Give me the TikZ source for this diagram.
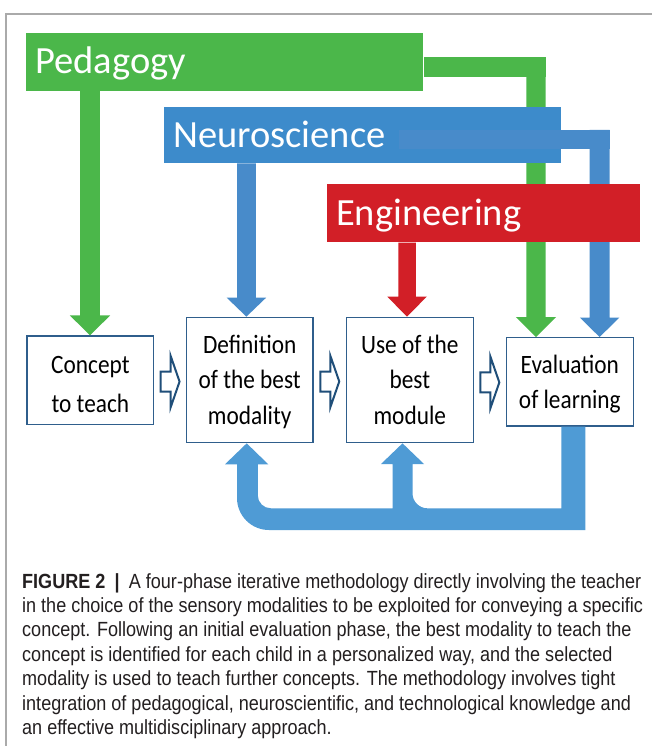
\documentclass[tikz,border=0pt]{standalone}
\usepackage{fontspec}
\setmainfont{Carlito}
\newfontfamily\hdrfont{Carlito}
\newfontfamily\boxfont[FakeStretch=0.88]{Carlito}
\newfontfamily\capfont[FakeStretch=0.88]{Liberation Sans}
\usetikzlibrary{calc}
\definecolor{pedgreen}{RGB}{75,183,74}
\definecolor{neublue}{RGB}{61,139,203}
\definecolor{neuarm}{RGB}{72,139,202}
\definecolor{engred}{RGB}{210,31,39}
\definecolor{fbblue}{RGB}{79,155,213}
\definecolor{boxblue}{RGB}{47,94,140}
\definecolor{harrowblue}{RGB}{31,78,121}
\definecolor{captext}{RGB}{35,31,32}
\definecolor{framegray}{RGB}{170,170,170}
\newcommand{\vblock}[6]{%
  \fill[#1] let \p1=(#2), \p2=(#3) in
    ({\x2-(#4)/2},\y1) -- ({\x2+(#4)/2},\y1) -- ({\x2+(#4)/2},{\y2+(#6)})
    -- ({\x2+(#5)/2},{\y2+(#6)}) -- (\x2,\y2) -- ({\x2-(#5)/2},{\y2+(#6)})
    -- ({\x2-(#4)/2},{\y2+(#6)}) -- cycle;}
\newcommand{\harrow}[2]{%
  \draw[hollowarrow] let \p1=($(#1.east)!0.5!(#2.west)$) in
    ({\x1-9.5pt},{\y1-1.5pt+10pt}) -- ({\x1+0.5pt},{\y1-1.5pt+10pt})
    -- ({\x1+0.5pt},{\y1-1.5pt+26pt}) -- ({\x1+9.5pt},{\y1-1.5pt})
    -- ({\x1+0.5pt},{\y1-1.5pt-26pt}) -- ({\x1+0.5pt},{\y1-1.5pt-10pt})
    -- ({\x1-9.5pt},{\y1-1.5pt-10pt}) -- cycle;}
\begin{document}
\begin{tikzpicture}[x=1pt,y=-1pt,
  hdr/.style={rectangle, inner xsep=9pt, inner ysep=0pt, minimum height=58pt,
    text height=24.3pt, text depth=0pt, align=left, text=white,
    font=\hdrfont\fontsize{38.5}{41}\selectfont},
  stagebox/.style={draw=boxblue, line width=1.3pt, fill=white, minimum width=126.8pt,
    inner sep=0pt, align=center, text=black, text depth=0pt},
  hollowarrow/.style={draw=harrowblue, fill=white, line width=2pt, line join=miter},
  capline/.style={anchor=base west, inner sep=0pt, text=captext,
    font=\capfont\fontsize{20.5}{23.3}\selectfont}]
\useasboundingbox (0,0) rectangle (652,746);
\fill[white] (0,0) rectangle (652,746);
\draw[framegray, line width=1.5pt] (6,746) -- (6,14) -- (652,14);

% stage boxes
\node[stagebox, minimum height=88.3pt, text height=65pt,
  font=\boxfont\fontsize{26.5}{39}\selectfont] (b1) at (90.4,380.2) {Concept\\to teach};
\node[stagebox, minimum height=125.4pt, text height=88.6pt,
  font=\boxfont\fontsize{26.5}{35.5}\selectfont] (b2) at (249.7,380) {Definition\\of the best\\modality};
\node[stagebox, minimum height=125.4pt, text height=88.6pt,
  font=\boxfont\fontsize{26.5}{35.5}\selectfont] (b3) at (409.8,380) {Use of the\\best\\module};
\node[stagebox, minimum height=88.3pt, text height=52.9pt,
  font=\boxfont\fontsize{26.5}{35}\selectfont] (b4) at (569.85,381.85) {Evaluation\\of learning};

% Pedagogy
\node[hdr, fill=pedgreen, minimum width=397.1pt, text width=379.1pt] (ped) at (224.75,61.7) {Pedagogy};
\coordinate (garm) at (545.5,77.3);
\coordinate (gtop) at (536,57.3);
\fill[pedgreen] ([yshift=4.4pt]ped.east) rectangle (garm);
\vblock{pedgreen}{ped.south}{[xshift=-0.4pt]b1.north}{19.6pt}{40.3pt}{20pt}
\vblock{pedgreen}{gtop}{[xshift=-33.85pt]b4.north}{19.1pt}{40.3pt}{20pt}

% Neuroscience
\node[hdr, fill=neublue, minimum height=56.6pt, minimum width=397.1pt, text width=379.1pt] (neu) at (362.75,135) {Neuroscience};
\coordinate (narm0) at (399,130);
\coordinate (narm1) at (609.6,149.3);
\coordinate (ntop) at (599.6,130);
\fill[neuarm] (narm0) rectangle (narm1);
\vblock{neuarm}{neu.south}{[xshift=-3.3pt]b2.north}{18.7pt}{39.5pt}{19pt}
\vblock{neuarm}{ntop}{[xshift=29.75pt]b4.north}{20pt}{39.5pt}{19.5pt}

% Engineering
\node[hdr, fill=engred, minimum width=313.1pt, text width=295.1pt] (eng) at (483.75,213.3) {Engineering};
\vblock{engred}{eng.south}{[xshift=-2.8pt]b3.north}{17.5pt}{39.5pt}{20pt}

% feedback loop
\fill[fbblue] ([xshift=-8.55pt]b4.south) -- (561.3,508.3) -- (427.5,508.3)
  .. controls (419.2,508.3) and (412.5,501.6) .. (412.5,493.3) -- (412.5,464)
  -- (424,464) -- ([xshift=-7.3pt]b3.south) -- (381,464) -- (392.5,464)
  -- (392.5,508.3) -- (270.8,508.3)
  .. controls (263.6,508.3) and (257.8,502.5) .. (257.8,495.3) -- (257.8,464.3)
  -- (268.3,464.3) -- ([xshift=-3pt]b2.south) -- (225,464.3) -- (237,464.3)
  -- (237,498) .. controls (237,515.7) and (251.3,530) .. (269,530)
  -- (585.4,530) -- ([xshift=15.55pt]b4.south) -- cycle;

% hollow arrows between stages
\harrow{b1}{b2}
\harrow{b2}{b3}
\harrow{b3}{b4}

% caption
\node[capline] (c1) at (22,588) {\textbf{FIGURE 2}\hspace{0.45em}\textbf{|}\hspace{0.45em}A four-phase iterative methodology directly involving the teacher};
\node[capline] (c2) at (22,612.4) {in the choice of the sensory modalities to be exploited for conveying a specific};
\node[capline] (c3) at (22,636.8) {concept. Following an initial evaluation phase, the best modality to teach the};
\node[capline] (c4) at (22,661.2) {concept is identified for each child in a personalized way, and the selected};
\node[capline] (c5) at (22,685.6) {modality is used to teach further concepts. The methodology involves tight};
\node[capline] (c6) at (22,710) {integration of pedagogical, neuroscientific, and technological knowledge and};
\node[capline] (c7) at (22,734.4) {an effective multidisciplinary approach.};
\end{tikzpicture}
\end{document}
